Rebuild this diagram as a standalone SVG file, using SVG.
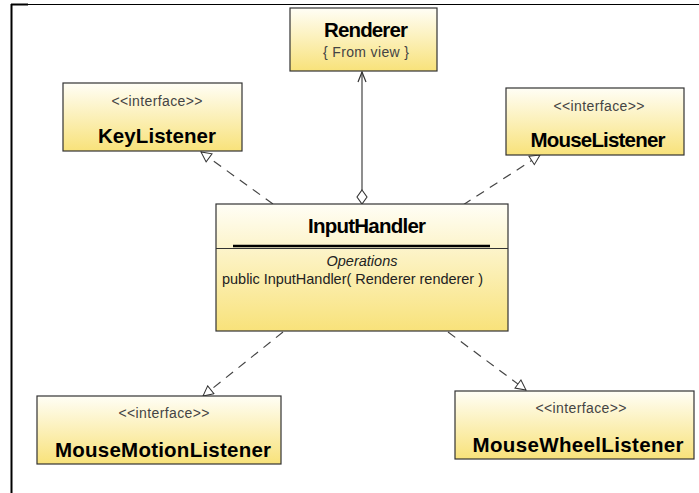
<svg xmlns="http://www.w3.org/2000/svg" width="699" height="493" viewBox="0 0 699 493">
  <defs>
    <linearGradient id="fill" x1="0" y1="0" x2="0" y2="1">
      <stop offset="0" stop-color="#fffef6"/>
      <stop offset="1" stop-color="#f8e27a"/>
    </linearGradient>
    <marker id="realize" viewBox="0 0 12 12" refX="11" refY="6" markerWidth="12" markerHeight="12" markerUnits="userSpaceOnUse" orient="auto">
      <path d="M1,1 L11,6 L1,11 Z" fill="#fff" stroke="#333" stroke-width="1"/>
    </marker>
    <marker id="open" viewBox="0 0 12 12" refX="11" refY="6" markerWidth="12" markerHeight="12" markerUnits="userSpaceOnUse" orient="auto">
      <path d="M1,2 L11,6 L1,10" fill="none" stroke="#333" stroke-width="1.2"/>
    </marker>
  </defs>
  <style>
    .box { fill: url(#fill); stroke: #333; stroke-width: 1.2; }
    .name { font-family: "Liberation Sans", Arial, sans-serif; font-weight: bold; font-size: 20.5px; fill: #000; text-anchor: middle; }
    .stereo { font-family: "Liberation Sans", Arial, sans-serif; font-size: 14px; fill: #444; text-anchor: middle; }
    .small { font-family: "Liberation Sans", Arial, sans-serif; font-size: 14.5px; fill: #222; }
    .dash { fill: none; stroke: #444; stroke-width: 1.2; stroke-dasharray: 9 7; marker-end: url(#realize); }
  </style>
  <rect width="699" height="493" fill="#fff"/>

  <!-- frame -->
  <path d="M11.5,4.5 H699" stroke="#000" stroke-width="1" fill="none"/>
  <path d="M11,4.5 H28" stroke="#000" stroke-width="2" fill="none"/>
  <path d="M11.5,4 V493" stroke="#000" stroke-width="2" fill="none"/>

  <!-- connectors -->
  <g id="connectors">
    <path d="M362,190 V72" fill="none" stroke="#444" stroke-width="1.2" marker-end="url(#open)"/>
    <path d="M362,190 L367,197 L362,204 L357,197 Z" fill="#fff" stroke="#333" stroke-width="1.1"/>
    <path class="dash" d="M273,204 L201,152"/>
    <path class="dash" d="M463,205 L540,155"/>
    <path class="dash" d="M283,332 L203,396"/>
    <path class="dash" d="M448,332 L526,390"/>
  </g>

  <g id="renderer">
    <rect class="box" x="290" y="8" width="147" height="63"/>
    <text class="name" x="366" y="37" textLength="84">Renderer</text>
    <text class="stereo" x="366" y="57" textLength="86">{ From view }</text>
  </g>

  <g id="keylistener">
    <rect class="box" x="63" y="83" width="179" height="68"/>
    <text class="stereo" x="157" y="106" textLength="91">&lt;&lt;interface&gt;&gt;</text>
    <text class="name" x="157" y="143" textLength="118">KeyListener</text>
  </g>

  <g id="mouselistener">
    <rect class="box" x="506" y="88" width="178" height="67"/>
    <text class="stereo" x="599" y="111" textLength="91">&lt;&lt;interface&gt;&gt;</text>
    <text class="name" x="598" y="147" textLength="135">MouseListener</text>
  </g>

  <g id="inputhandler">
    <rect class="box" x="216" y="204" width="292" height="127"/>
    <text class="name" x="367" y="233" textLength="118">InputHandler</text>
    <line x1="233" y1="246" x2="490" y2="246" stroke="#000" stroke-width="2.5"/>
    <line x1="216" y1="248.5" x2="508" y2="248.5" stroke="#333" stroke-width="1.2"/>
    <text class="small" x="362" y="266" text-anchor="middle" font-style="italic" font-size="13px" fill="#333">Operations</text>
    <text class="small" x="222" y="284" textLength="261">public InputHandler( Renderer renderer )</text>
  </g>

  <g id="mousemotionlistener">
    <rect class="box" x="37" y="396" width="244" height="68"/>
    <text class="stereo" x="164" y="418" textLength="91">&lt;&lt;interface&gt;&gt;</text>
    <text class="name" x="163" y="457" textLength="216">MouseMotionListener</text>
  </g>

  <g id="mousewheellistener">
    <rect class="box" x="455" y="391" width="239" height="68"/>
    <text class="stereo" x="581" y="413" textLength="91">&lt;&lt;interface&gt;&gt;</text>
    <text class="name" x="578" y="452" textLength="211">MouseWheelListener</text>
  </g>
</svg>
